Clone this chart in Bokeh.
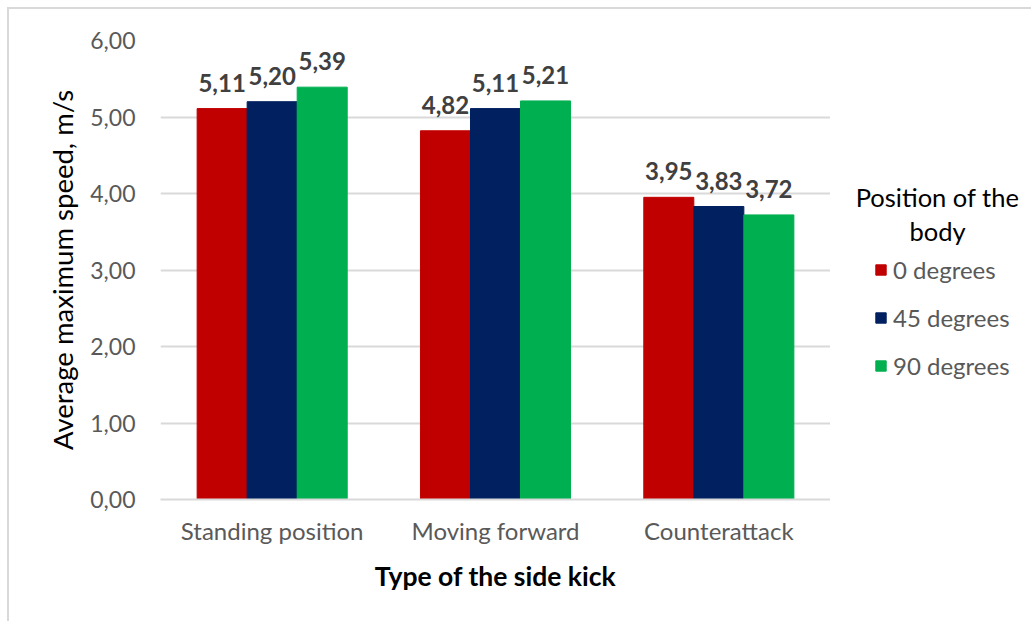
from bokeh.plotting import figure
from bokeh.layouts import row
from bokeh.models import (ColumnDataSource, FactorRange, Range1d, Legend, LegendItem,
                          LabelSet, Label, CustomJSTickFormatter, SingleIntervalTicker)
from bokeh.transform import dodge
from bokeh.core.properties import value
from bokeh.embed import file_html
from bokeh.resources import INLINE

categories = ["Standing position", "Moving forward", "Counterattack"]
series_names = ["0 degrees", "45 degrees", "90 degrees"]
deg0 = [5.11, 4.82, 3.95]
deg45 = [5.20, 5.11, 3.83]
deg90 = [5.39, 5.21, 3.72]
colors = ["#C00000", "#002060", "#00B050"]
legend_title = ["Position of the", "body"]

FONT = "Lato"

def fmt(v):
    return f"{v:.2f}".replace(".", ",")

data = dict(cat=categories, s0=deg0, s1=deg45, s2=deg90,
            l0=[fmt(v) for v in deg0], l1=[fmt(v) for v in deg45], l2=[fmt(v) for v in deg90])
src = ColumnDataSource(data)

p = figure(width=821, height=612, x_range=FactorRange(*categories, range_padding=0),
           y_range=Range1d(0, 6), output_backend="svg", toolbar_location=None,
           min_border_left=151, min_border_right=0, min_border_top=31, min_border_bottom=122)
p.outline_line_color = None

bw = 0.224
offs = [-bw, 0.0, bw]
for i, (col, c) in enumerate(zip(["s0", "s1", "s2"], colors)):
    p.vbar(x=dodge("cat", offs[i], range=p.x_range), top=col, width=bw, source=src,
           fill_color=c, line_color=c)
    lab = LabelSet(x=dodge("cat", offs[i], range=p.x_range), y=col, text="l%d" % i, source=src,
                   text_align="center", text_baseline="bottom", y_offset=17,
                   text_font=value(FONT), text_font_style="bold", text_font_size="24px",
                   text_color="#404040")
    p.add_layout(lab)

p.yaxis.ticker = SingleIntervalTicker(interval=1)
p.yaxis.formatter = CustomJSTickFormatter(code="return tick.toFixed(2).replace('.', ',');")
p.yaxis.axis_line_color = None
p.yaxis.major_tick_line_color = None
p.yaxis.minor_tick_line_color = None
p.yaxis.major_label_standoff = 19
p.yaxis.major_label_text_font = FONT
p.yaxis.major_label_text_font_size = "23px"
p.yaxis.major_label_text_color = "#595959"
p.yaxis.axis_label = "Average maximum speed, m/s"
p.yaxis.axis_label_text_font = FONT
p.yaxis.axis_label_text_font_style = "normal"
p.yaxis.axis_label_text_font_size = "27.5px"
p.yaxis.axis_label_text_color = "#000000"
p.yaxis.axis_label_standoff = 8

p.xaxis.axis_line_color = "#D9D9D9"
p.xaxis.axis_line_width = 2
p.xaxis.major_tick_line_color = None
p.xaxis.minor_tick_line_color = None
p.xaxis.major_label_standoff = 10
p.xaxis.major_label_text_font = FONT
p.xaxis.major_label_text_font_size = "24px"
p.xaxis.major_label_text_color = "#595959"
p.xaxis.axis_label = "Type of the side kick"
p.xaxis.axis_label_text_font = FONT
p.xaxis.axis_label_text_font_style = "bold"
p.xaxis.axis_label_text_font_size = "26.5px"
p.xaxis.axis_label_text_color = "#000000"
p.xaxis.axis_label_standoff = 12

p.xgrid.grid_line_color = None
p.ygrid.grid_line_color = "#D9D9D9"
p.ygrid.grid_line_width = 2

# legend panel (separate figure to the right; its frame aligns with the chart's frame)
q = figure(width=201, height=612, x_range=Range1d(0, 1), y_range=Range1d(0, 1),
           output_backend="svg", toolbar_location=None, x_axis_type=None, y_axis_type=None,
           min_border=0)
q.outline_line_color = None
q.xgrid.visible = False
q.ygrid.visible = False
items = []
for n, col, c in zip(series_names, ["s0", "s1", "s2"], colors):
    # swatch renderers: same data, lying outside this panel's ranges so only the legend shows
    r = q.vbar(x=col, top=col, width=0.01, source=src, fill_color=c, line_color=c)
    items.append(LegendItem(label=n, renderers=[r]))
legend = Legend(items=items, location=(44, 110), orientation="vertical", margin=0, padding=0,
                glyph_width=13, glyph_height=13, label_standoff=6, label_height=48, spacing=0,
                label_text_font=FONT, label_text_font_size="24px", label_text_color="#595959",
                border_line_color=None, background_fill_alpha=0)
q.add_layout(legend, "center")
for txt, yy in zip(legend_title, [303, 269]):
    q.add_layout(Label(x=107, y=yy, x_units="screen", y_units="screen", text=txt,
                       text_align="center", text_baseline="middle", text_font=FONT,
                       text_font_size="25.5px", text_color="#000000"))

layout = row(p, q, spacing=0)
layout.margin = (7, 0, 0, 7)
layout.styles = {"border-top": "2px solid #D9D9D9", "border-left": "2px solid #D9D9D9"}

open("out.html", "w").write(file_html(layout, INLINE))
